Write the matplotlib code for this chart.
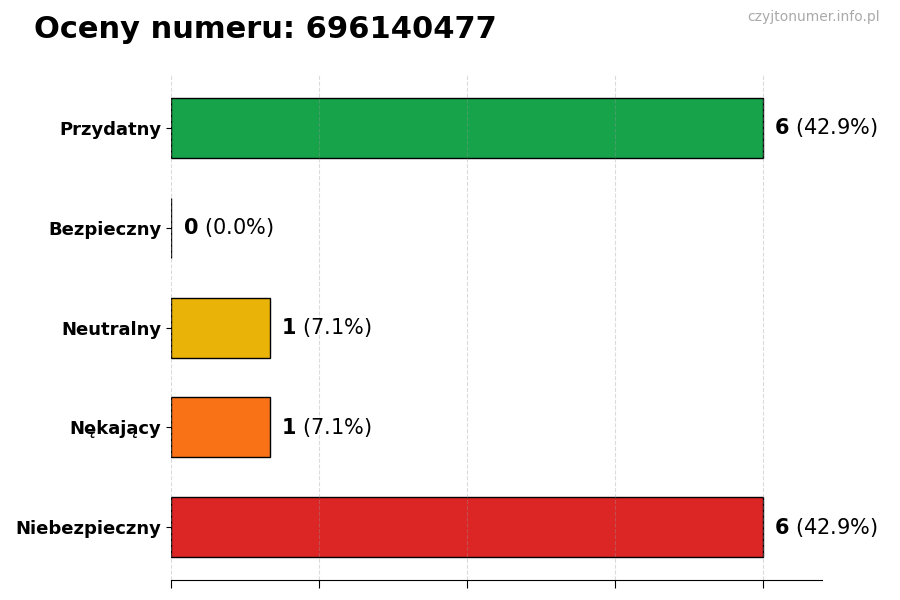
import matplotlib.pyplot as plt
import numpy as np

# ratings for the number
categories = ['Przydatny', 'Bezpieczny', 'Neutralny', 'Nękający', 'Niebezpieczny']
counts = [6, 0, 1, 1, 6]
colors = ['#16a34a', '#16a34a', '#eab308', '#f97316', '#dc2626']

total = sum(counts)

fig = plt.figure(figsize=(9, 6), dpi=100)
ax = fig.add_axes([0.19, 0.033, 0.723, 0.842])

y = np.arange(len(categories))
ax.barh(y, counts, height=0.6, color=colors, edgecolor='black', linewidth=1, zorder=2)
ax.invert_yaxis()

ax.set_xlim(0, max(counts) * 1.1)
ax.set_xticks(np.linspace(0, max(counts), 5))
ax.set_xticklabels([])
ax.tick_params(axis='x', length=6)
ax.set_yticks(y)
ax.set_yticklabels(categories, fontsize=13, fontweight='bold')

ax.grid(axis='x', linestyle='--', color='#999999', alpha=0.35, linewidth=0.8, zorder=3)
ax.set_axisbelow(False)
for s in ['top', 'right', 'left']:
    ax.spines[s].set_visible(False)

for yi, c in zip(y, counts):
    pct = c / total * 100
    ax.text(c + 0.12, yi, r'$\mathbf{%d}$ (%.1f%%)' % (c, pct), va='center', ha='left', fontsize=15)

fig.text(0.038, 0.95, 'Oceny numeru: 696140477', fontsize=22, fontweight='bold', va='center')
fig.text(0.978, 0.972, 'czyjtonumer.info.pl', fontsize=10, color='#aaaaaa', ha='right', va='center')

fig.savefig('out.png', dpi=100)
